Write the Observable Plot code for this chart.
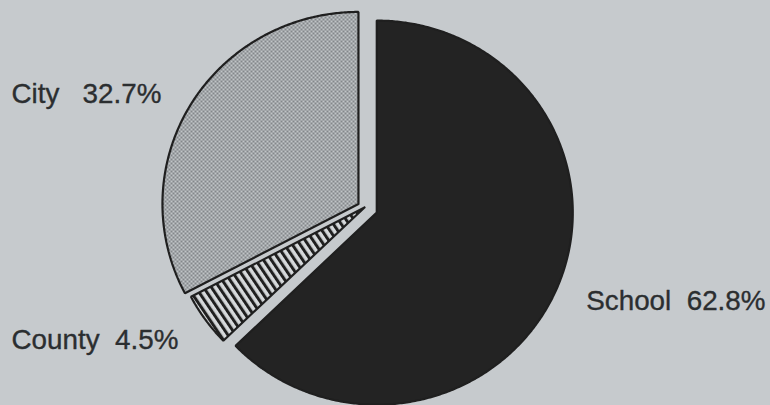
<!DOCTYPE html>
<html>
<head>
<meta charset="utf-8">
<script src="https://cdn.jsdelivr.net/npm/d3@7"></script>
<script src="https://cdn.jsdelivr.net/npm/@observablehq/plot@0.6"></script>
<style>
  html, body { margin: 0; padding: 0; background: #c6cacd; }
  #chart { width: 770px; height: 405px; overflow: hidden; }
</style>
</head>
<body>
<div id="chart"></div>
<script>
// ---- data ----
const categories = ["School", "County", "City"];
const shares = [62.8, 4.5, 32.7];
const valueLabels = ["62.8%", "4.5%", "32.7%"];
const labelGaps = ["\u00a0\u00a0", "\u00a0\u00a0", "\u00a0\u00a0\u00a0"];

// ---- layout constants (code, not data) ----
const W = 770, H = 405;
const cxPix = 364, cyPix = 207;      // pie centre in pixels
const rxPix = 196, ryPix = 192;      // pixels per unit radius (x, y)
const explode = {School: 0.068, County: 0, City: 0.036};
const labelR = 1.16;

const pie = d3.pie().sort(null).value(d => d.share).startAngle(0).endAngle(2 * Math.PI);
const arcs = pie(categories.map((c, i) => ({category: c, share: shares[i], label: valueLabels[i], gap: labelGaps[i]})));

const outline = [];
const labels = [];
for (const a of arcs) {
  const c = a.data.category;
  const mid = (a.startAngle + a.endAngle) / 2;
  const e = explode[c];
  const ox = e * Math.sin(mid), oy = e * Math.cos(mid);
  outline.push({category: c, x: ox, y: oy});
  const n = Math.max(8, Math.ceil((a.endAngle - a.startAngle) / (Math.PI / 360)));
  for (let k = 0; k <= n; k++) {
    const t = a.startAngle + (a.endAngle - a.startAngle) * k / n;
    outline.push({category: c, x: ox + Math.sin(t), y: oy + Math.cos(t)});
  }
  outline.push({category: c, x: ox, y: oy});
  labels.push({
    category: c,
    text: c + a.data.gap + a.data.label,
    y: labelR * Math.cos(mid),
    side: Math.sin(mid) >= 0 ? "right" : "left"
  });
}

const fills = {School: "#232323", County: "url(#stripes)", City: "url(#stipple)"};

const font = "'Liberation Sans', Arial, Helvetica, sans-serif";
const textStyle = {fontSize: 27.8, fontFamily: font, fill: "#2b2e30", stroke: "#2b2e30", strokeWidth: 0.35};
const svg = Plot.plot({
  width: W,
  height: H,
  margin: 0,
  style: {background: "#c6cacd", overflow: "hidden"},
  x: {domain: [-cxPix / rxPix, (W - cxPix) / rxPix], axis: null},
  y: {domain: [-(H - cyPix) / ryPix, cyPix / ryPix], axis: null},
  color: {domain: categories, range: categories.map(c => fills[c])},
  marks: [
    Plot.line(outline, {
      x: "x", y: "y", z: "category", fill: "category",
      stroke: "#1f1f1f", strokeWidth: 2.2, strokeLinejoin: "miter", curve: "linear"
    }),
    Plot.text(labels.filter(d => d.side === "right"), {
      y: "y", text: "text", frameAnchor: "right", textAnchor: "end", dx: -5, dy: 6,
      ...textStyle
    }),
    Plot.text(labels.filter(d => d.side === "left"), {
      y: "y", text: "text", frameAnchor: "left", textAnchor: "start", dx: 11, dy: 2,
      ...textStyle
    })
  ]
});

// patterns
const defs = d3.select(svg).insert("defs", ":first-child");
const stip = defs.append("pattern").attr("id", "stipple")
  .attr("patternUnits", "userSpaceOnUse").attr("width", 4).attr("height", 4);
stip.append("rect").attr("width", 4).attr("height", 4).attr("fill", "#c1c5c7");
stip.append("rect").attr("width", 2).attr("height", 2).attr("fill", "#83878a");
stip.append("rect").attr("x", 2).attr("y", 2).attr("width", 2).attr("height", 2).attr("fill", "#83878a");

const str = defs.append("pattern").attr("id", "stripes")
  .attr("patternUnits", "userSpaceOnUse").attr("width", 6.5).attr("height", 10)
  .attr("patternTransform", "rotate(-34)");
str.append("rect").attr("width", 6.5).attr("height", 10).attr("fill", "#d6d9db");
str.append("rect").attr("width", 3).attr("height", 10).attr("fill", "#1f1f1f");

document.getElementById("chart").appendChild(svg);
</script>
</body>
</html>
